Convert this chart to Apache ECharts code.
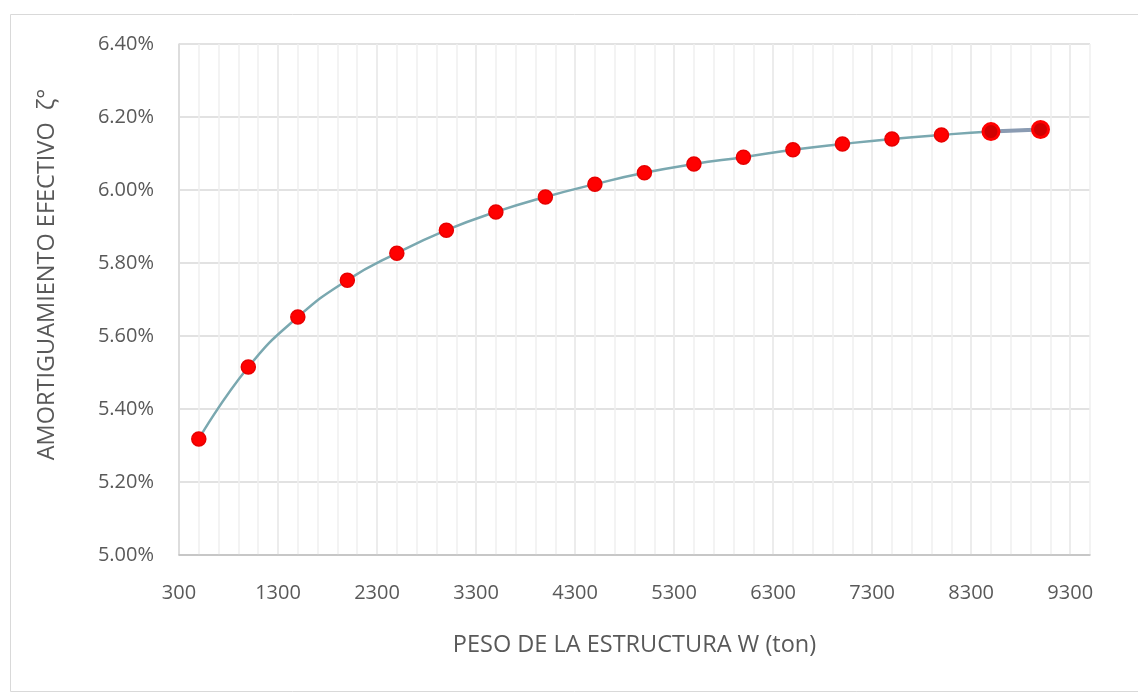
<!DOCTYPE html>
<html><head><meta charset="utf-8">
<script src="https://cdn.jsdelivr.net/npm/echarts@6/dist/echarts.min.js"></script>
<style>html,body{margin:0;padding:0;background:#fff}#c{width:1138px;height:694px}</style>
</head><body><div id="c"></div>
<script>
const weights = [500,1000,1500,2000,2500,3000,3500,4000,4500,5000,5500,6000,6500,7000,7500,8000,8500,9000];
const damping = [5.318,5.515,5.652,5.753,5.827,5.890,5.940,5.981,6.016,6.047,6.071,6.090,6.110,6.126,6.140,6.151,6.160,6.166];
const xTitle = 'PESO DE LA ESTRUCTURA W (ton)';
const yTitle = 'AMORTIGUAMIENTO EFECTIVO  ζ°';

const pts = weights.map((w,i)=>[w,damping[i]]);
const tail = pts.slice(-2);
const font = '"Open Sans", "Liberation Sans", sans-serif';
const chart = echarts.init(document.getElementById('c'));
chart.setOption({
  animation:false,
  graphic:[{type:'rect',shape:{x:10.5,y:14.5,width:1140,height:677},style:{fill:'none',stroke:'#d9d9d9',lineWidth:1},silent:true}],
  grid:{left:179,top:44,width:911,height:511,containLabel:false},
  xAxis:[{
    type:'value',min:300,max:9500,interval:1000,
    name:xTitle,nameLocation:'middle',nameGap:78,
    nameTextStyle:{color:'#595959',fontSize:23.5,fontFamily:font},
    axisLine:{show:true,lineStyle:{color:'#bfbfbf',width:1.5}},
    axisTick:{show:false},
    axisLabel:{color:'#595959',fontSize:20,fontFamily:font,margin:28,showMaxLabel:false,formatter:v=>String(v)},
    splitLine:{show:true,showMaxLine:false,lineStyle:{color:'#d9d9d9',width:1.5}}
  },{
    type:'value',min:300,max:9500,interval:200,position:'bottom',
    axisLine:{show:false},axisTick:{show:false},axisLabel:{show:false},
    splitLine:{show:true,lineStyle:{color:'#efefef',width:1.5}}
  }],
  yAxis:{
    type:'value',min:5,max:6.4,interval:0.2,
    name:yTitle,nameLocation:'middle',nameGap:120,
    nameTextStyle:{color:'#595959',fontSize:23.5,fontFamily:font,padding:[0,0,0,50]},
    axisLine:{show:true,lineStyle:{color:'#d9d9d9',width:1.5}},
    axisTick:{show:false},
    axisLabel:{color:'#595959',fontSize:20,fontFamily:font,margin:25,formatter:v=>v.toFixed(2)+'%'},
    splitLine:{show:true,lineStyle:{color:'#d9d9d9',width:1.5}}
  },
  series:[{
    type:'line',xAxisIndex:0,data:pts,smooth:0.5,
    lineStyle:{color:'#7aa8b0',width:2.5},
    symbol:'circle',symbolSize:14,
    itemStyle:{color:'#ff0000',borderColor:'#e80000',borderWidth:1.5},
    z:3
  },{
    type:'line',xAxisIndex:0,data:tail,
    lineStyle:{color:'#8a9bb2',width:4},
    symbol:'circle',symbolSize:16,
    itemStyle:{color:'#d00000',borderColor:'#ff0000',borderWidth:3},
    z:4
  }]
});
</script></body></html>
